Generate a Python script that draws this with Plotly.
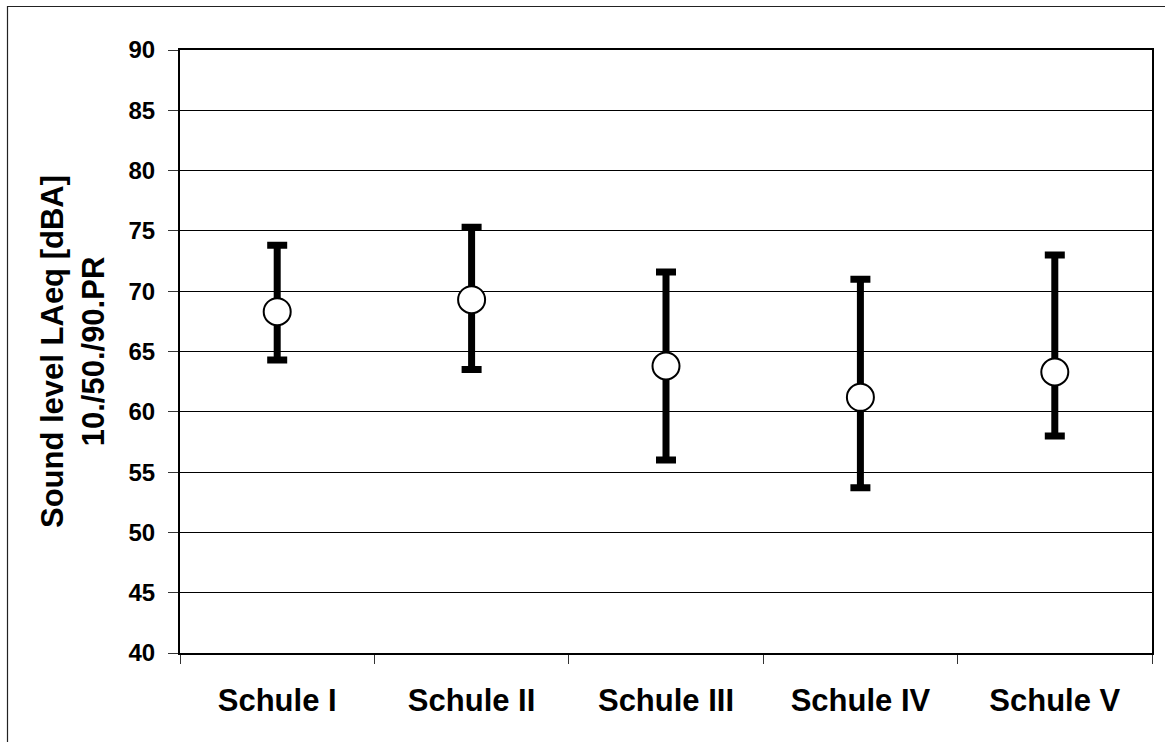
import plotly.graph_objects as go

schools = ["Schule I", "Schule II", "Schule III", "Schule IV", "Schule V"]
p90 = [73.8, 75.3, 71.6, 71.0, 73.0]
p50 = [68.3, 69.3, 63.8, 61.2, 63.3]
p10 = [64.3, 63.5, 56.0, 53.7, 58.0]
y_ticks = [40, 45, 50, 55, 60, 65, 70, 75, 80, 85, 90]

err_plus = [round(a - b, 2) for a, b in zip(p90, p50)]
err_minus = [round(b - c, 2) for b, c in zip(p50, p10)]

FONT = "Arial, Liberation Sans, sans-serif"

fig = go.Figure()
fig.add_trace(go.Scatter(
    x=schools, y=p50, mode="markers",
    marker=dict(symbol="circle", size=27, color="white",
                line=dict(color="black", width=2)),
    error_y=dict(type="data", symmetric=False, array=err_plus,
                 arrayminus=err_minus, color="black", thickness=7, width=10),
    showlegend=False, hoverinfo="skip",
))

W, H = 1165, 742
L, R, T, B = 180, 13, 50, 89
pw, ph = W - L - R, H - T - B

def px_x(v):
    return (v - L) / pw

def px_y(v):
    return (H - B - v) / ph

fig.add_shape(type="rect", xref="paper", yref="paper",
              x0=px_x(7.5), x1=px_x(1180), y0=px_y(6.5), y1=px_y(760),
              line=dict(color="#222", width=1.2), fillcolor="rgba(0,0,0,0)",
              layer="below")

fig.update_layout(
    width=W, height=H,
    margin=dict(l=L, r=R, t=T, b=B),
    paper_bgcolor="white", plot_bgcolor="white",
    font=dict(family=FONT, color="black"),
    xaxis=dict(
        type="category", range=[-0.5, 4.5], autorange=False,
        tickson="boundaries", ticks="outside", ticklen=9,
        tickcolor="#333", tickwidth=1,
        showline=True, linecolor="black", linewidth=2, mirror=True,
        showgrid=False,
        tickfont=dict(size=31, family=FONT, weight="bold"),
        ticklabelstandoff=19,
    ),
    yaxis=dict(
        range=[40, 90], tickvals=y_ticks, ticks="outside", ticklen=10,
        tickcolor="#333", tickwidth=1,
        showline=True, linecolor="black", linewidth=2, mirror=True,
        showgrid=True, gridcolor="black", gridwidth=1,
        zeroline=False,
        tickfont=dict(size=24, family=FONT, weight="bold"),
        ticklabelstandoff=8,
        title=dict(text="Sound level LAeq [dBA]<br>10./50./90.PR",
                   font=dict(size=31, family=FONT, weight="bold"),
                   standoff=15),
    ),
)

fig.write_html("out.html")
